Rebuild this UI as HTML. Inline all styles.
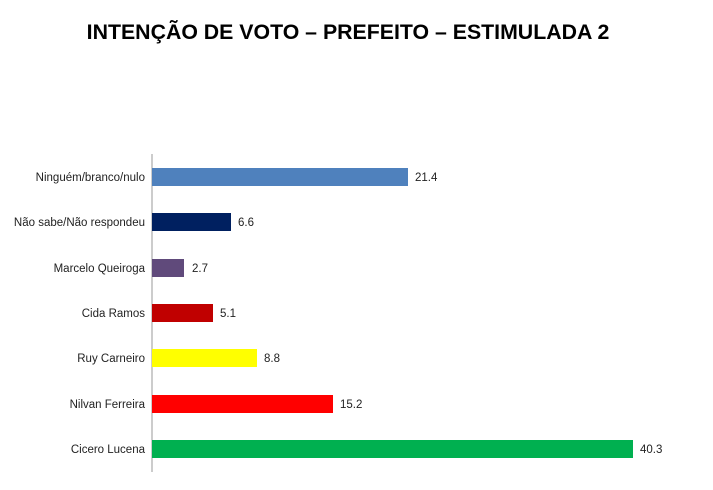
<!DOCTYPE html>
<html><head><meta charset="utf-8"><style>
body{margin:0;width:713px;height:485px;background:#fff;overflow:hidden;font-family:"Liberation Sans",sans-serif}
</style></head><body>
<svg width="713" height="485" xmlns="http://www.w3.org/2000/svg" font-family="Liberation Sans, sans-serif">
<text x="348" y="39" text-anchor="middle" font-size="21.3" font-weight="bold" fill="#000">INTENÇÃO DE VOTO – PREFEITO – ESTIMULADA 2</text>
<line x1="152" y1="154" x2="152" y2="472" stroke="#999" stroke-width="1"/>
<g font-size="11.5" fill="#222">
<rect x="152" y="168" width="256" height="18" fill="#4F81BD"/>
<text x="145" y="181" text-anchor="end">Ninguém/branco/nulo</text><text x="415" y="181">21.4</text>
<rect x="152" y="213" width="79" height="18" fill="#002060"/>
<text x="145" y="226" text-anchor="end">Não sabe/Não respondeu</text><text x="238" y="226">6.6</text>
<rect x="152" y="259" width="32" height="18" fill="#604A7B"/>
<text x="145" y="272" text-anchor="end">Marcelo Queiroga</text><text x="192" y="272">2.7</text>
<rect x="152" y="304" width="61" height="18" fill="#C00000"/>
<text x="145" y="317" text-anchor="end">Cida Ramos</text><text x="220" y="317">5.1</text>
<rect x="152" y="349" width="105" height="18" fill="#FFFF00"/>
<text x="145" y="362" text-anchor="end">Ruy Carneiro</text><text x="264" y="362">8.8</text>
<rect x="152" y="395" width="181" height="18" fill="#FF0000"/>
<text x="145" y="408" text-anchor="end">Nilvan Ferreira</text><text x="340" y="408">15.2</text>
<rect x="152" y="440" width="481" height="18" fill="#00B050"/>
<text x="145" y="453" text-anchor="end">Cicero Lucena</text><text x="640" y="453">40.3</text>
</g>
</svg>
</body></html>
